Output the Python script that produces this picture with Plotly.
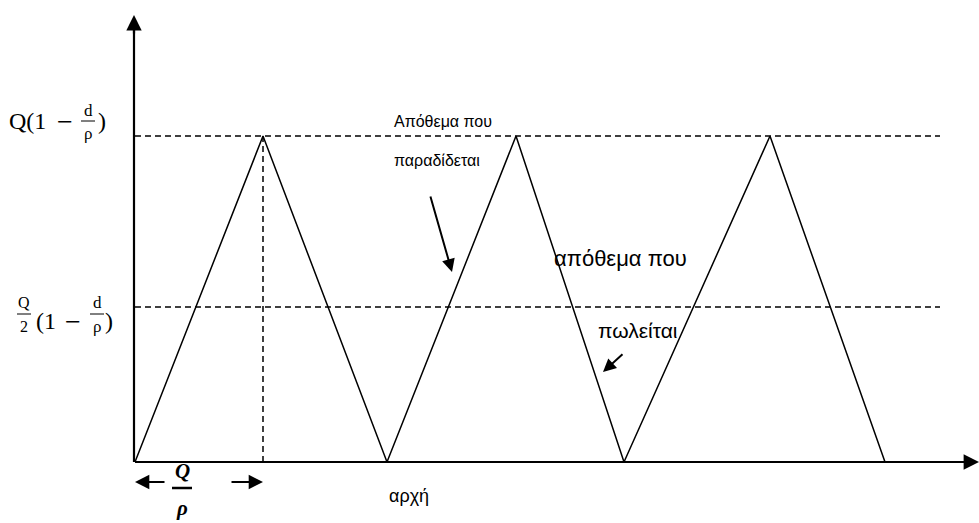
import plotly.graph_objects as go

# ---- data (chart units: x = time, y = inventory level) ----
cycle_x = [0, 128, 252, 381, 489, 635, 750]
inventory = [0, 326, 0, 326, 0, 326, 0]
max_level = 326
half_level = 155
ref_x_end = 805
axis_x_end = 844
axis_y_end = 447
q_over_rho = 128  # production time Q/ρ

label_top = "Απόθεμα που"
label_top2 = "παραδίδεται"
label_mid = "απόθεμα που"
label_mid2 = "πωλείται"
label_start = "αρχή"

fig = go.Figure()

# inventory saw-tooth
fig.add_trace(go.Scatter(x=cycle_x, y=inventory, mode="lines",
                         line=dict(color="black", width=1.5), hoverinfo="skip"))
# dashed reference levels
for lvl in (max_level, half_level):
    fig.add_trace(go.Scatter(x=[0, ref_x_end], y=[lvl, lvl], mode="lines",
                             line=dict(color="black", width=1.5, dash="6px,4px"),
                             hoverinfo="skip"))
# vertical dashed line at Q/ρ
fig.add_trace(go.Scatter(x=[q_over_rho, q_over_rho], y=[0, max_level], mode="lines",
                         line=dict(color="black", width=1.5, dash="6px,4px"),
                         hoverinfo="skip"))
# axes lines
fig.add_trace(go.Scatter(x=[0, axis_x_end - 12], y=[0, 0], mode="lines",
                         line=dict(color="black", width=2.2), hoverinfo="skip"))
fig.add_trace(go.Scatter(x=[-1, -1], y=[0, axis_y_end - 12], mode="lines",
                         line=dict(color="black", width=2.2), hoverinfo="skip"))

ann = []
# axis arrowheads
ann.append(dict(x=axis_x_end, y=0, ax=axis_x_end - 20, ay=0, xref="x", yref="y",
                axref="x", ayref="y", showarrow=True, arrowhead=2, arrowsize=1.4,
                arrowwidth=2.2, arrowcolor="black", text=""))
ann.append(dict(x=-1, y=axis_y_end, ax=-1, ay=axis_y_end - 20, xref="x", yref="y",
                axref="x", ayref="y", showarrow=True, arrowhead=2, arrowsize=1.4,
                arrowwidth=2.2, arrowcolor="black", text=""))
# Q/ρ span arrows
ann.append(dict(x=0, y=-20, ax=31, ay=-20, xref="x", yref="y", axref="x", ayref="y",
                showarrow=True, arrowhead=2, arrowsize=1.3, arrowwidth=2.2,
                arrowcolor="black", text=""))
ann.append(dict(x=q_over_rho, y=-20, ax=95, ay=-20, xref="x", yref="y", axref="x",
                ayref="y", showarrow=True, arrowhead=2, arrowsize=1.3, arrowwidth=2.2,
                arrowcolor="black", text=""))
# text arrows
ann.append(dict(x=317, y=190, ax=295, ay=267, xref="x", yref="y", axref="x", ayref="y",
                showarrow=True, arrowhead=2, arrowsize=1.3, arrowwidth=2,
                arrowcolor="black", text=""))
ann.append(dict(x=468, y=90, ax=489, ay=109, xref="x", yref="y", axref="x", ayref="y",
                showarrow=True, arrowhead=2, arrowsize=1.3, arrowwidth=2,
                arrowcolor="black", text=""))

sans = "Liberation Sans, Arial, sans-serif"
serif = "Liberation Serif, Cambria, serif"


def txt(x, y, t, size, fam=sans, xanchor="left"):
    ann.append(dict(x=x, y=y, xref="x", yref="y", text=t, showarrow=False,
                    xanchor=xanchor, yanchor="middle",
                    font=dict(family=fam, size=size, color="black")))


txt(257, 341, label_top, 16)
txt(257, 302, label_top2, 16)
txt(417, 204, label_mid, 22)
txt(461, 132, label_mid2, 21)
txt(252, -34, label_start, 18)

# Q/ρ bold italic fraction
txt(47, -9, "<b><i>Q</i></b>", 21, serif, "center")
txt(47, -46, "<b><i>ρ</i></b>", 21, serif, "center")

# left-side level labels
txt(-128, 341, "Q(1", 24, serif)
txt(-70, 341, "−", 28, serif, "center")
txt(-47, 352, "d", 17, serif, "center")
txt(-47, 329, "ρ", 17, serif, "center")
txt(-39, 341, ")", 24, serif)

txt(-111, 160, "Q", 16, serif, "center")
txt(-111, 136, "2", 16, serif, "center")
txt(-101, 141, "(1", 24, serif)
txt(-62, 141, "−", 28, serif, "center")
txt(-38, 160, "d", 17, serif, "center")
txt(-38, 136, "ρ", 17, serif, "center")
txt(-32, 141, ")", 24, serif)

shapes = [
    dict(type="line", xref="x", yref="y", x0=37, x1=57, y0=-26, y1=-26,
         line=dict(color="black", width=2.5)),
    dict(type="line", xref="x", yref="y", x0=-54, x1=-40, y0=341, y1=341,
         line=dict(color="black", width=1)),
    dict(type="line", xref="x", yref="y", x0=-118, x1=-104, y0=148, y1=148,
         line=dict(color="black", width=1)),
    dict(type="line", xref="x", yref="y", x0=-45, x1=-31, y0=148, y1=148,
         line=dict(color="black", width=1)),
]

fig.update_layout(
    width=979, height=523, margin=dict(l=0, r=0, t=0, b=0),
    paper_bgcolor="white", plot_bgcolor="white", showlegend=False,
    xaxis=dict(range=[-135, 844], visible=False, fixedrange=True),
    yaxis=dict(range=[-61, 462], visible=False, fixedrange=True),
    annotations=ann, shapes=shapes,
)

fig.write_html("out.html", config={"displayModeBar": False},
               post_script="document.body.style.margin='0px';document.body.style.overflow='hidden';")
